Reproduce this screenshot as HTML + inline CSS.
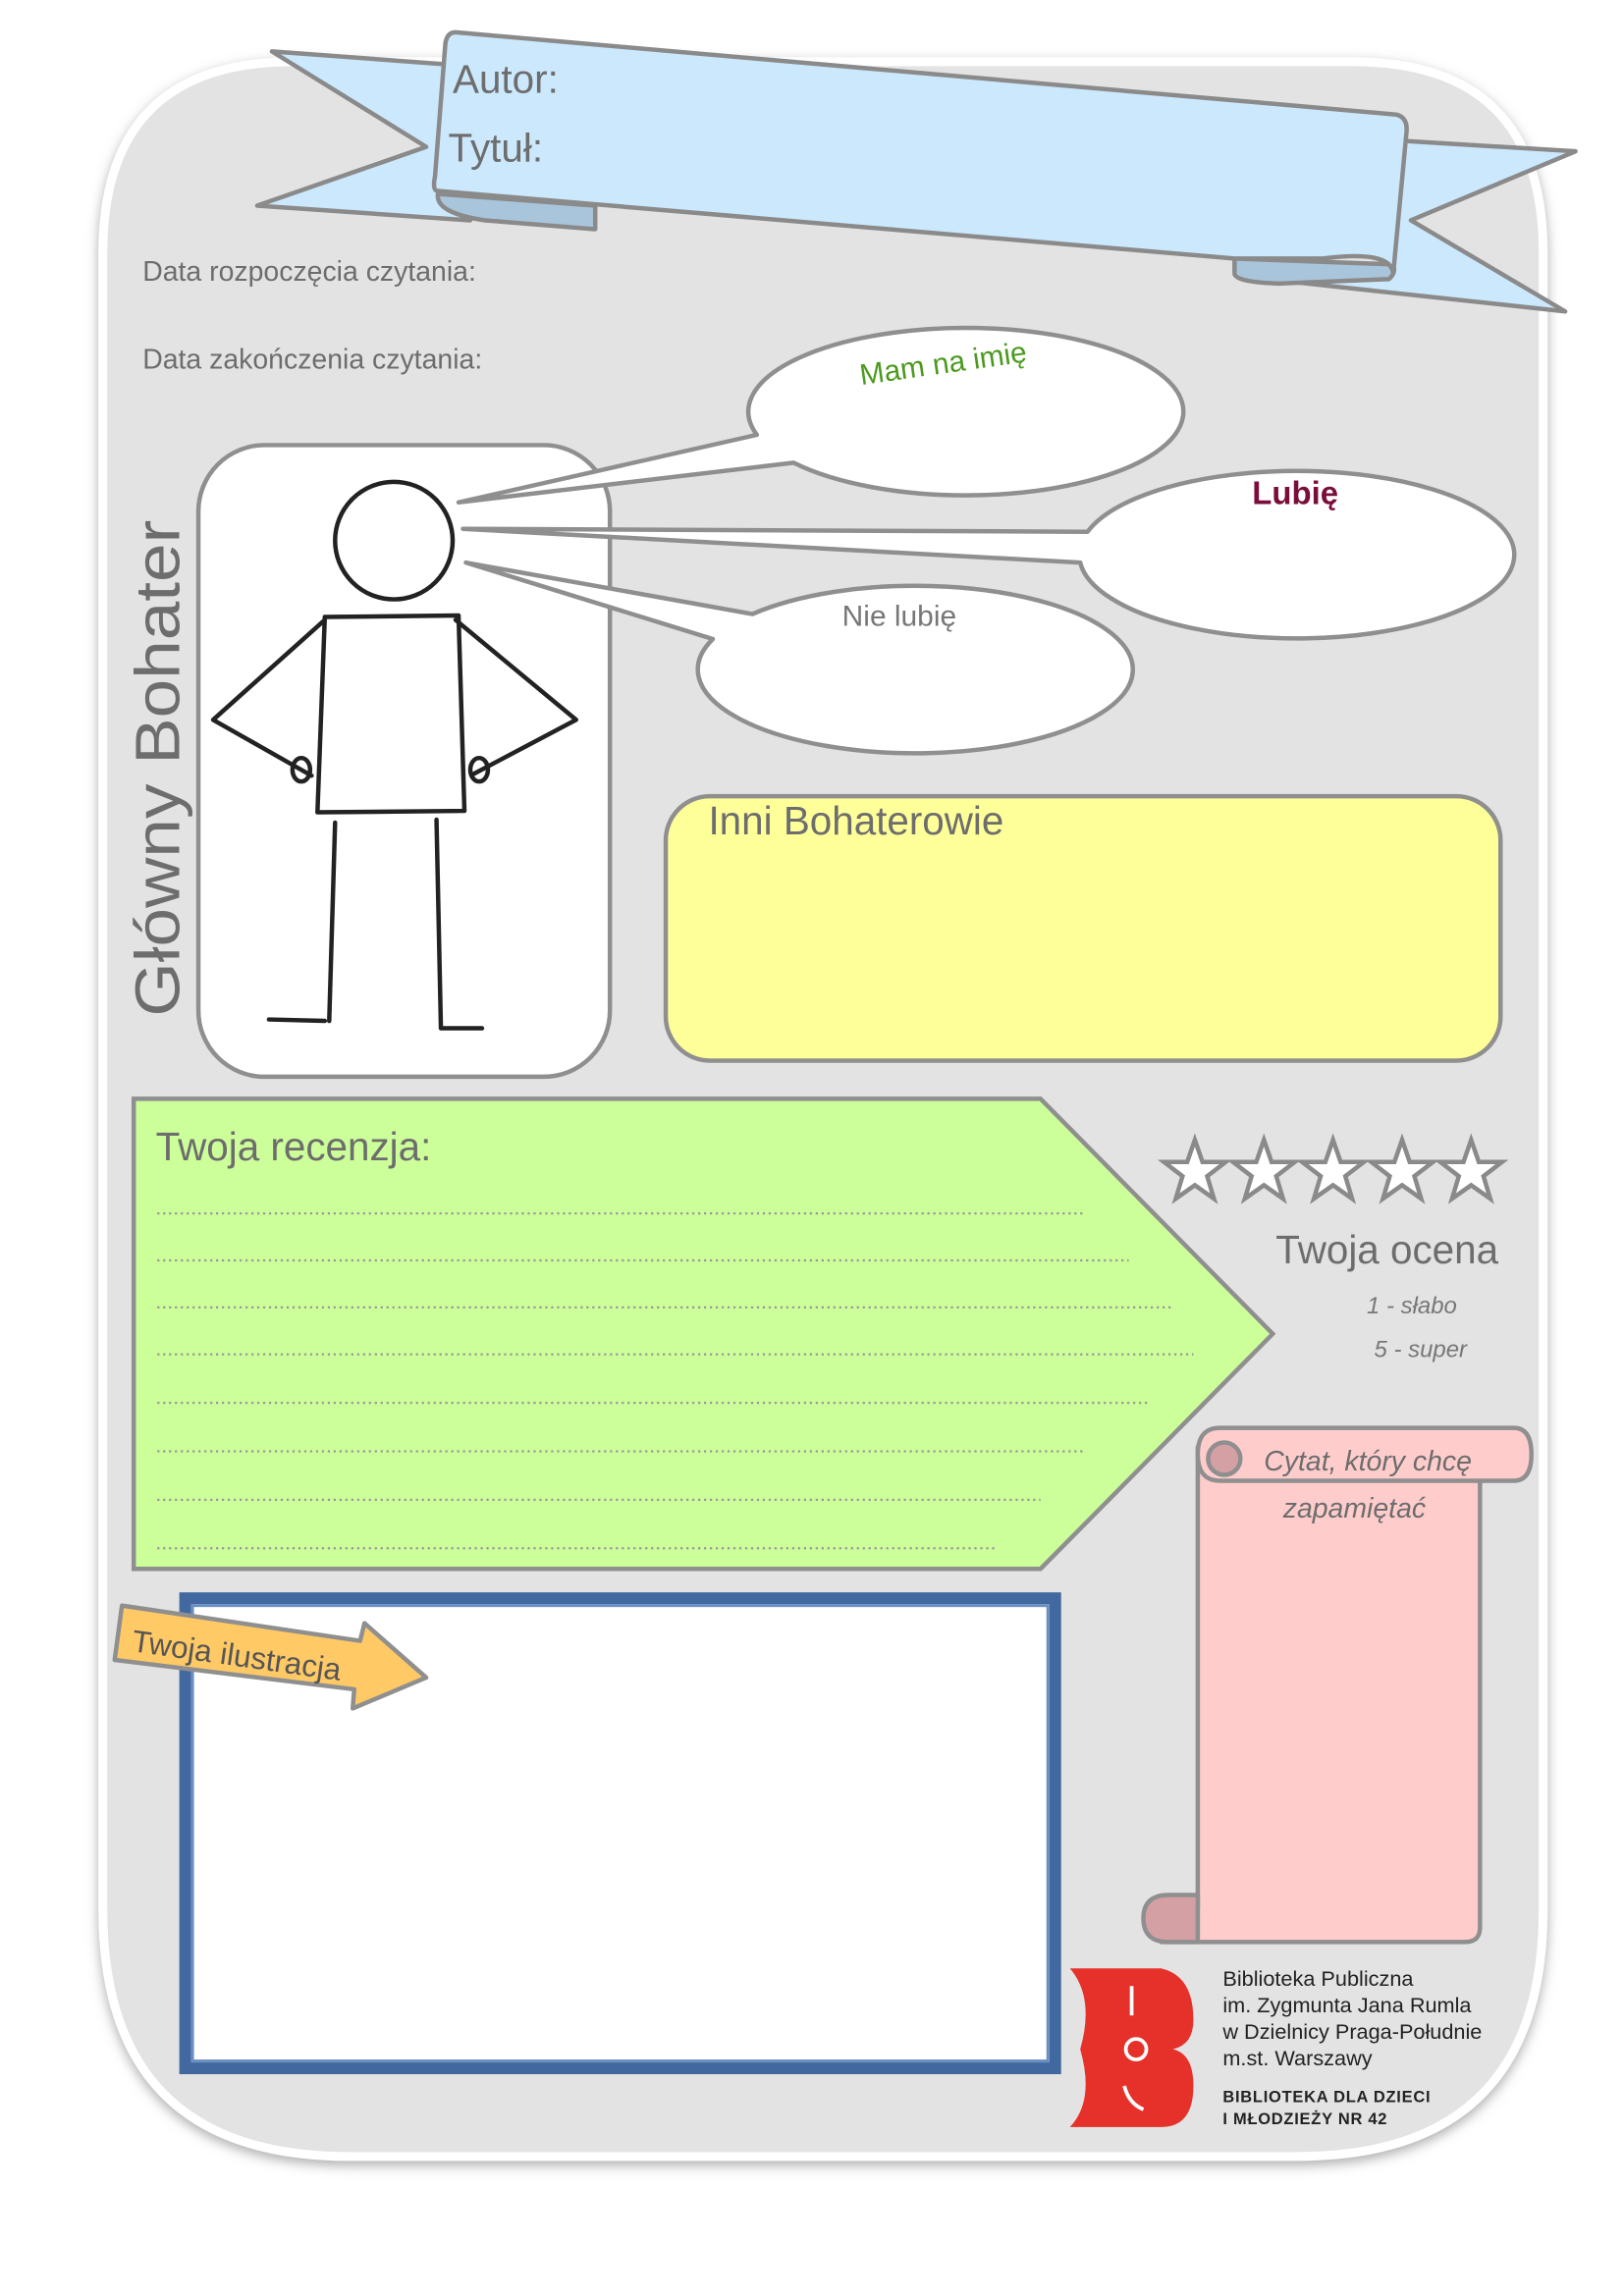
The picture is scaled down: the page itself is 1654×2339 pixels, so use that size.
<!DOCTYPE html>
<html><head><meta charset="utf-8"><style>
html,body{margin:0;padding:0;background:#fff;}
svg{display:block}
text{font-family:"Liberation Sans","DejaVu Sans",sans-serif;}
</style></head><body>
<svg width="1654" height="2339" viewBox="0 0 1105 1563" preserveAspectRatio="none" xmlns="http://www.w3.org/2000/svg">
<defs>
<filter id="sh" x="-5%" y="-5%" width="110%" height="110%"><feDropShadow dx="0" dy="3" stdDeviation="4" flood-color="#777" flood-opacity="0.6"/></filter>
</defs>
<rect width="1105" height="1563" fill="#fff"/>
<path d="M200,42 L920,42 Q1050,42 1050,172 L1050,1300 Q1050,1468 882,1468 L238,1468 Q70,1468 70,1300 L70,172 Q70,42 200,42 Z" fill="#e3e3e3" stroke="#fff" stroke-width="6" filter="url(#sh)"/>
<g stroke="#8a8a8a" stroke-width="3" stroke-linejoin="round">
<polygon points="185,35 320,45 320,150 175,140 290,100" fill="#cce8fd"/>
<path d="M298,132 Q296,145 330,150 L405,156 L405,140 Z" fill="#a9c5dc"/>
<polygon points="940,95 1072,103 960,150 1065,212 880,192 940,180" fill="#cce8fd"/>
<path d="M840,176 L840,186 Q840,192 870,193 L945,190 Q950,186 948,180 Z" fill="#a9c5dc"/>
<path d="M310,22 L950,78 Q958,80 957,90 L948,186 Q946,170 900,176 L840,176 L298,130 Q294,130 296,120 L303,30 Q304,22 310,22 Z" fill="#cce8fd"/>
</g>
<g fill="#6d6d6d">
<text x="308" y="63" font-size="27">Autor:</text>
<text x="305" y="110" font-size="27">Tytuł:</text>
<text x="97" y="191" font-size="19">Data rozpoczęcia czytania:</text>
<text x="97" y="251" font-size="19">Data zakończenia czytania:</text>
</g>
<rect x="135" y="303" width="280" height="430" rx="45" fill="#fff" stroke="#8f8f8f" stroke-width="3"/>
<text transform="translate(122,692) rotate(-90)" font-size="43" fill="#6d6d6d" textLength="338" lengthAdjust="spacingAndGlyphs">Główny Bohater</text>
<g fill="#fff" stroke="#8f8f8f" stroke-width="3" stroke-linejoin="round">
<path d="M515,296 A148,57 0 1 1 540,315 L312,342 Z"/>
<path d="M740,362 A148,57 0 1 1 735,383 L315,360 Z"/>
<path d="M485,435 L317,383 L512,418 A148,57 0 1 1 485,435 Z"/>
</g>
<text transform="translate(586,262) rotate(-8)" font-size="20" fill="#4b9a1e">Mam na imię</text>
<text x="852" y="343" font-size="22" fill="#7a0d3a" font-weight="bold">Lubię</text>
<text x="573" y="426" font-size="20" fill="#777">Nie lubię</text>
<g fill="none" stroke="#222" stroke-width="3" stroke-linecap="round" stroke-linejoin="round">
<circle cx="268" cy="368" r="40"/>
<path d="M221,420 L312,419 L316,552 L216,553 Z"/>
<path d="M221,422 L145,490 L212,528"/>
<path d="M310,422 L392,490 L322,527"/>
<path d="M228,560 L224,695 M183,694 L221,695 M297,558 L300,700 M300,700 L328,700"/>
<ellipse cx="205" cy="524" rx="6" ry="8"/><ellipse cx="326" cy="524" rx="6" ry="8"/>
</g>
<rect x="453" y="542" width="568" height="180" rx="30" fill="#ffff99" stroke="#8f8f8f" stroke-width="3"/>
<text x="482" y="568" font-size="27" fill="#6d6d6d">Inni Bohaterowie</text>
<polygon points="91,748 708,748 866,908 708,1068 91,1068" fill="#ccff99" stroke="#8f8f8f" stroke-width="3"/>
<text x="106" y="790" font-size="27" fill="#6d6d6d">Twoja recenzja:</text>
<g stroke="#999" stroke-width="1.5" stroke-dasharray="1.5,2.5">
<line x1="107" y1="826" x2="738" y2="826"/><line x1="107" y1="858" x2="768" y2="858"/>
<line x1="107" y1="890" x2="798" y2="890"/><line x1="107" y1="922" x2="812" y2="922"/>
<line x1="107" y1="955" x2="782" y2="955"/><line x1="107" y1="988" x2="738" y2="988"/>
<line x1="107" y1="1021" x2="708" y2="1021"/><line x1="107" y1="1054" x2="678" y2="1054"/>
</g>
<g fill="#fff" stroke="#8a8a8a" stroke-width="3">
<polygon points="0,-22 5.2,-7 21,-7 8.4,2.7 13,18 0,8.8 -13,18 -8.4,2.7 -21,-7 -5.2,-7" transform="translate(813,798)"/>
<polygon points="0,-22 5.2,-7 21,-7 8.4,2.7 13,18 0,8.8 -13,18 -8.4,2.7 -21,-7 -5.2,-7" transform="translate(860,798)"/>
<polygon points="0,-22 5.2,-7 21,-7 8.4,2.7 13,18 0,8.8 -13,18 -8.4,2.7 -21,-7 -5.2,-7" transform="translate(907,798)"/>
<polygon points="0,-22 5.2,-7 21,-7 8.4,2.7 13,18 0,8.8 -13,18 -8.4,2.7 -21,-7 -5.2,-7" transform="translate(954,798)"/>
<polygon points="0,-22 5.2,-7 21,-7 8.4,2.7 13,18 0,8.8 -13,18 -8.4,2.7 -21,-7 -5.2,-7" transform="translate(1001,798)"/>
</g>
<text x="868" y="860" font-size="27" fill="#6d6d6d">Twoja ocena</text>
<text x="930" y="894" font-size="16" fill="#777" font-style="italic">1 - słabo</text>
<text x="935" y="924" font-size="16" fill="#777" font-style="italic">5 - super</text>
<g stroke="#8f8f8f" stroke-width="3" stroke-linejoin="round">
<path d="M815,985 L1007,985 L1007,1312 Q1007,1322 997,1322 L790,1322 L815,1300 Z" fill="#ffcccc"/>
<path d="M830,972 L1030,972 Q1042,972 1042,990 Q1042,1008 1030,1008 L830,1008 Q815,1008 815,990 Q815,972 830,972 Z" fill="#ffcccc"/>
<circle cx="833" cy="993" r="11" fill="#d4a0a4"/>
<path d="M795,1290 L815,1290 L815,1322 L795,1322 Q778,1322 778,1306 Q778,1290 795,1290 Z" fill="#d4a0a4"/>
</g>
<text x="860" y="1001" font-size="19" fill="#6d6d6d" font-style="italic">Cytat, który chcę</text>
<text x="873" y="1033" font-size="19" fill="#6d6d6d" font-style="italic">zapamiętać</text>
<rect x="126" y="1088" width="592" height="320" fill="#fff" stroke="#41689f" stroke-width="8"/>
<rect x="131" y="1093" width="582" height="310" fill="none" stroke="#6b8fc2" stroke-width="2"/>
<polygon points="83,1093 245,1117 248,1105 290,1142 240,1163 241,1150 78,1130" fill="#ffc965" stroke="#8f8f8f" stroke-width="3" stroke-linejoin="round"/>
<text transform="translate(89,1124) rotate(8)" font-size="21" fill="#555">Twoja ilustracja</text>
<path d="M728,1340 L790,1340 Q812,1345 812,1375 Q812,1392 798,1395 Q812,1398 812,1420 Q812,1448 790,1448 L728,1448 Q745,1430 735,1395 Q745,1360 728,1340 Z" fill="#e6312a"/>
<g stroke="#fff" stroke-width="2.5" fill="none"><line x1="770" y1="1352" x2="770" y2="1372"/><circle cx="773" cy="1395" r="7"/><path d="M765,1420 Q768,1432 778,1436"/></g>
<g fill="#222" font-size="14.5"><text x="832" y="1352">Biblioteka Publiczna</text><text x="832" y="1370">im. Zygmunta Jana Rumla</text><text x="832" y="1388">w Dzielnicy Praga-Południe</text><text x="832" y="1406">m.st. Warszawy</text></g>
<g fill="#222" font-size="11" font-weight="bold" letter-spacing="0.5"><text x="832" y="1431">BIBLIOTEKA DLA DZIECI</text><text x="832" y="1446">I MŁODZIEŻY NR 42</text></g>
</svg>
</body></html>
